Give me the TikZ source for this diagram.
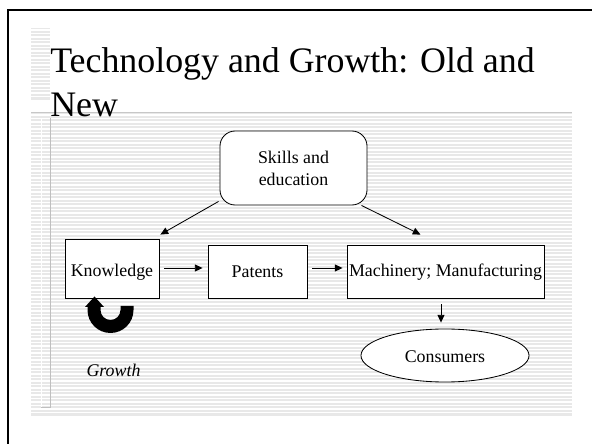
\documentclass[tikz,border=0pt]{standalone}
\usepackage{fontspec}
\setmainfont{Liberation Serif}
\usetikzlibrary{arrows.meta,shapes.geometric}

\begin{document}
\begin{tikzpicture}[x=0.025cm,y=-0.025cm,
  box/.style={draw,fill=white,line width=0.6pt,inner sep=0pt,text depth=0pt,text height=9pt,font=\fontsize{12.7}{15}\selectfont},
  skillbox/.style={box,rounded corners=0.38cm,align=center,text height=,text depth=,font=\fontsize{12.7}{15.6}\selectfont},
  ovalbox/.style={box,ellipse,text height=10pt},
  arr/.style={-{Triangle[length=5.5pt,width=5pt]},line width=0.6pt},
  stripe/.style={white,line width=0.75pt},
  titletxt/.style={inner sep=0pt,font=\fontsize{25.5}{31}\selectfont}]
\useasboundingbox (0,0) rectangle (592,444);
% striped background
\fill[black!9] (31,28) rectangle (50,100);
\fill[black!9] (31,112) rectangle (572,416);
\foreach \y in %
{30,33.5,...,99} {
   \draw[stripe] (31,\y) -- (50,\y);
}
\foreach \y in %
{115,118.5,...,415} {
   \draw[stripe] (31,\y) -- (572,\y);
}
\draw[black!22,line width=0.7pt] (31,112) -- (572,112);
\draw[white,line width=0.7pt] (41,118) -- (41,407);
\draw[black!25,line width=0.6pt] (50,118) -- (50,407) -- (41,407);
% slide frame
\draw[line width=1.5pt] (8,444) -- (8,10) -- (592,10);
% title
\node[titletxt,anchor=base west] (title) at (50,73) {Technology and Growth: Old and};
\node[titletxt,anchor=base west] (titlenew) at (50,117) {New};
% boxes
\node[skillbox,minimum width=3.675cm,minimum height=1.85cm] (skills) at (293.5,168) {Skills and\\education};
\node[box,text height=12pt,minimum width=2.35cm,minimum height=1.475cm] (know) at (112,268.5) {Knowledge};
\node[box,minimum width=2.475cm,minimum height=1.325cm] (pat) at (257.5,271.5) {Patents};
\node[box,text height=6.5pt,minimum width=4.925cm,minimum height=1.325cm] (mach) at (445.5,271.5) {Machinery; Manufacturing};
\node[ovalbox,minimum width=4.2cm,minimum height=1.325cm] (cons) at (445,355.5) {Consumers};
\node[inner sep=0pt,anchor=base,font=\fontsize{12.7}{15}\selectfont\itshape] (growth) at (113.5,377) {Growth};
% arrows
\draw[arr] ([shift={(-1,-4)}]skills.south west) -- ([shift={(1,-4)}]know.north east);
\draw[arr] ([shift={(-6,0)}]skills.south east) -- ([shift={(-25,-10)}]mach.north);
\draw[arr] ([shift={(5,-0.5)}]know.east) -- ([shift={(-5,-3.5)}]pat.west);
\draw[arr] ([shift={(5,-3.5)}]pat.east) -- ([shift={(-4,-3.5)}]mach.west);
\draw[arr] ([shift={(-4.5,6)}]mach.south) -- ([shift={(-4,-6)}]cons.north);
% growth loop
\fill (133.5,306) -- (133.5,310) arc[start angle=0,end angle=180,radius=23]
   -- (87.5,307) -- (85,307) -- (94.5,296.5) -- (104,307) -- (100.5,307)
   -- (100.5,310) arc[start angle=180,end angle=0,radius=10] -- (120.5,306) -- cycle;
\end{tikzpicture}
\end{document}
